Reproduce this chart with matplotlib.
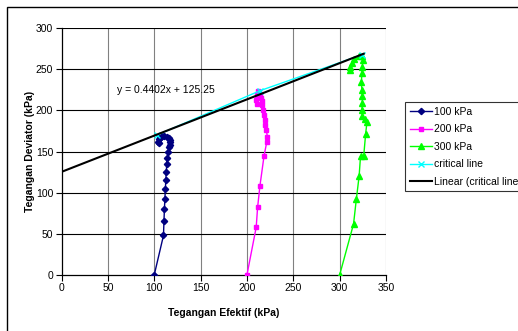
import numpy as np
import matplotlib
matplotlib.use('Agg')
import matplotlib.pyplot as plt
from matplotlib.patches import Rectangle

plt.rcParams['font.family'] = ['Liberation Sans', 'DejaVu Sans']

# data
x_100 = [100, 110, 110.5, 111, 111.5, 112, 112.5, 113, 113.5, 114, 115, 116,
         117, 117.3, 116.8, 115.5, 113.5, 111, 108.5, 106.5, 105, 104.5, 105]
y_100 = [0, 48, 65, 80, 92, 104, 115, 125, 135, 142, 149, 155,
         158.5, 161, 164, 166.5, 168, 169, 168.5, 167, 165, 162, 160]

x_200 = [200, 210, 211.5, 214, 218.5, 221.5, 222, 221, 220, 219, 218, 217.5,
         216.5, 216, 215, 214, 213.5, 212, 210.5, 210, 210.5]
y_200 = [0, 58, 82, 108, 145, 162, 168, 176, 182, 188, 194, 200,
         206, 211, 215, 219, 222, 223, 219, 213, 208]

x_300 = [300, 315, 318, 321, 322.5, 326, 328, 329.5, 327, 324.5, 324, 324.5,
         324.5, 324, 323.5, 324, 324.5, 325, 324.5, 321, 316, 313, 311.5, 311]
y_300 = [0, 62, 92, 120, 144, 145, 171, 186, 189, 193, 201, 209,
         218, 225, 235, 245, 253, 261, 266, 266, 262, 257, 253, 249]

x_crit = [103, 214.5, 324]
y_crit = [170, 224, 267.5]

slope = 0.4402
intercept = 125.25
trend_x = np.array([0, 326])

labels = ['100 kPa', '200 kPa', '300 kPa', 'critical line', 'Linear (critical line)']

W, H = 518, 331
fig = plt.figure(figsize=(W / 100, H / 100), dpi=100)
ax = fig.add_axes([61.5 / W, 1 - 275 / H, (386 - 61.5) / W, (275 - 28) / H])

ax.plot(x_100, y_100, color='#000080', marker='D', markersize=3.2, lw=1, label=labels[0], zorder=4)
ax.plot(x_200, y_200, color='#FF00FF', marker='s', markersize=3.4, lw=1, label=labels[1], zorder=4)
ax.plot(x_300, y_300, color='#00FF00', marker='^', markersize=4, lw=1, label=labels[2], zorder=4)
ax.plot(x_crit, y_crit, color='#00FFFF', marker='x', markersize=4, lw=1, label=labels[3], zorder=5)
ax.plot(trend_x, slope * trend_x + intercept, color='black', lw=1.5, label=labels[4], zorder=6)

ax.text(60, 225, 'y = 0.4402x + 125.25', fontsize=7.5, va='center', ha='left')

ax.set_xlim(0, 350)
ax.set_ylim(0, 300)
ax.set_xticks(np.arange(0, 351, 50))
ax.set_yticks(np.arange(0, 301, 50))
ax.tick_params(labelsize=7.5, direction='out', length=4, width=0.8, pad=2)
for v in range(50, 351, 50):
    ax.axvline(v, color='#808080', lw=0.8, zorder=1)
for v in range(50, 301, 50):
    ax.axhline(v, color='black', lw=0.8, zorder=1)
for s in ['top', 'right']:
    ax.spines[s].set_visible(False)
for s in ['left', 'bottom']:
    ax.spines[s].set_linewidth(0.9)

fig.text(224 / W, 1 - 313 / H, 'Tegangan Efektif (kPa)', fontsize=7.5, fontweight='bold',
         ha='center', va='center')
fig.text(30 / W, 1 - 151.5 / H, 'Tegangan Deviator (kPa)', fontsize=7.5, fontweight='bold',
         ha='center', va='center', rotation=90)

leg = fig.legend(loc='upper left', bbox_to_anchor=(405 / W, 1 - 102 / H), fontsize=7.5,
                 frameon=True, fancybox=False, edgecolor='black', borderaxespad=0,
                 labelspacing=0.72, handlelength=2.1, handletextpad=0.2, borderpad=0.45)
leg.get_frame().set_linewidth(0.8)

# chart area border
fig.patches.append(Rectangle((7 / W, -0.1), 1.2, 1 - 7 / H + 0.1, transform=fig.transFigure,
                             fill=False, edgecolor='black', lw=1))

fig.savefig('out.png', dpi=100)
